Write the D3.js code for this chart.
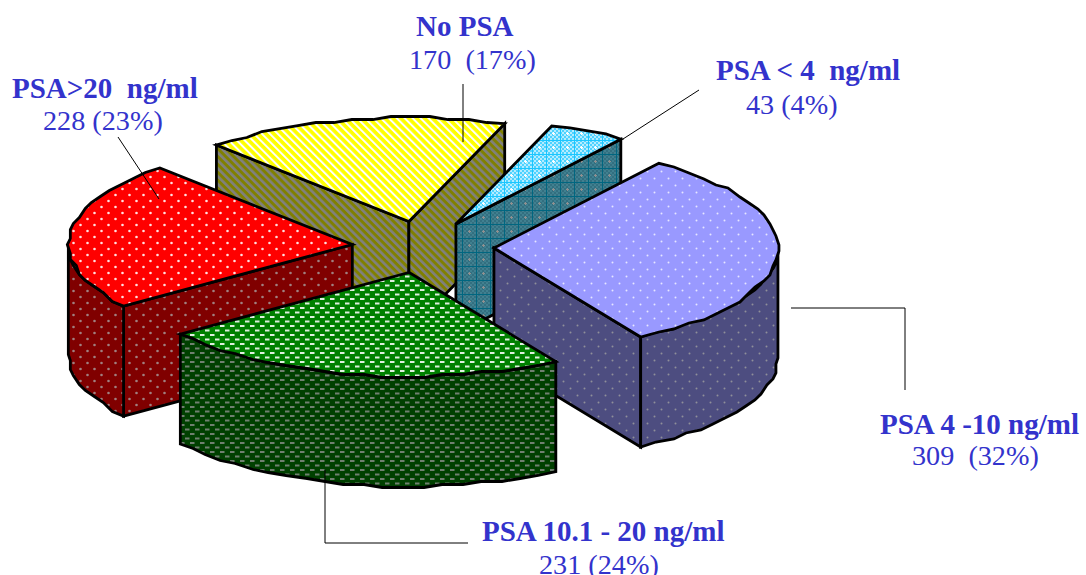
<!DOCTYPE html>
<html>
<head>
<meta charset="utf-8">
<script src="https://cdn.jsdelivr.net/npm/d3@7"></script>
<style>
  html, body { margin: 0; padding: 0; background: #fff; overflow: hidden; }
  text { font-family: "Liberation Serif", serif; fill: #3333cc; white-space: pre; }
  .head { font-weight: bold; font-size: 29px; }
  .sub { font-size: 28.2px; }
</style>
</head>
<body>
<script>
// slices run clockwise from the upper edge of the PSA 4-10 slice
var categories = ["PSA 4 -10 ng/ml", "PSA 10.1 - 20 ng/ml", "PSA>20  ng/ml", "No PSA", "PSA < 4  ng/ml"];
var counts = [309, 231, 228, 170, 43];
var subLabels = ["309  (32%)", "231 (24%)", "228 (23%)", "170  (17%)", "43 (4%)"];

var topPatterns = ["blueTop", "greenTop", "redTop", "yellowTop", "cyanTop"];
var sidePatterns = ["blueSide", "greenSide", "redSide", "yellowSide", "cyanSide"];

// the order the slices get painted in, back to front (index into the arrays above)
var paintOrder = [3, 4, 0, 2, 1];

// label start x, baselines
var headX = [880, 482, 12, 416, 716];
var headY = [434, 541, 98, 36, 80];
var subX = [912, 539, 43, 409, 746];
var subY = [465, 574, 130, 69, 114];
var leaders = [
    [[791, 308], [905, 308], [905, 390]],
    [[325, 470], [325, 543], [468, 543]],
    [[118, 137], [159, 199]],
    [[463, 84], [463, 142]],
    [[623, 139], [699, 90]]
];

var width = 1086, height = 575;
var depth = 110, explode = 0.25, startDeg = 35.5;

var svg = d3.select("body").append("svg")
    .attr("width", width)
    .attr("height", height);

// the pie lies flat, so the unit circle maps onto an ellipse
var scaleX = d3.scaleLinear().domain([-1, 1]).range([139, 707]);
var scaleY = d3.scaleLinear().domain([-1, 1]).range([143, 351]);

var pie = d3.pie()
    .sort(null)
    .startAngle(startDeg * Math.PI / 180)
    .endAngle((startDeg + 360) * Math.PI / 180);
var slices = pie(counts);

// ---- fill patterns ----
var defs = svg.append("defs");

function makePattern(id, w, h, base, transform) {
    var p = defs.append("pattern")
        .attr("id", id)
        .attr("patternUnits", "userSpaceOnUse")
        .attr("width", w)
        .attr("height", h);
    if (transform) p.attr("patternTransform", transform);
    p.append("rect").attr("width", w).attr("height", h).attr("fill", base);
    return p;
}

function dots(p, w, h, r, colour) {
    [[w / 4, h / 4], [w * 3 / 4, h * 3 / 4]].forEach(function(c) {
        p.append("circle").attr("cx", c[0]).attr("cy", c[1]).attr("r", r).attr("fill", colour);
    });
}

function dashes(p, colour) {
    [[0, 1], [5, 5.5]].forEach(function(c) {
        p.append("rect").attr("x", c[0]).attr("y", c[1]).attr("width", 4.5).attr("height", 2).attr("fill", colour);
    });
}

dots(makePattern("blueTop", 14, 14, "#9999ff"), 14, 14, 1, "#e6e6ff");
dots(makePattern("blueSide", 14, 14, "#4d4d80"), 14, 14, 1, "#8f8f99");
dots(makePattern("redTop", 14, 12, "#ff0000"), 14, 12, 1.3, "#ffe0e0");
dots(makePattern("redSide", 14, 12, "#800000"), 14, 12, 1.3, "#a08080");
dashes(makePattern("greenTop", 10, 9, "#008000"), "#e0f0e0");
dashes(makePattern("greenSide", 10, 9, "#004000"), "#708070");

var yt = makePattern("yellowTop", 5.6, 5.6, "#ffff00", "rotate(-45)");
yt.append("rect").attr("width", 2).attr("height", 5.6).attr("fill", "#ffffff");
var ys = makePattern("yellowSide", 5.6, 5.6, "#808000", "rotate(-45)");
ys.append("rect").attr("width", 2.6).attr("height", 5.6).attr("fill", "#808080");

function cyanPattern(id, a, b, line, plus) {
    var p = makePattern(id, 14, 14, a);
    d3.range(0, 14, 2).forEach(function(x) {
        d3.range(0, 14, 2).forEach(function(y) {
            if ((x + y) % 4 == 0) p.append("rect").attr("x", x).attr("y", y).attr("width", 2).attr("height", 2).attr("fill", b);
        });
    });
    p.append("rect").attr("x", 0).attr("width", 1).attr("height", 14).attr("fill", line);
    p.append("rect").attr("y", 0).attr("width", 14).attr("height", 1).attr("fill", line);
    p.append("rect").attr("x", 6).attr("y", 7).attr("width", 3).attr("height", 1).attr("fill", plus);
    p.append("rect").attr("x", 7).attr("y", 6).attr("width", 1).attr("height", 3).attr("fill", plus);
}
cyanPattern("cyanTop", "#4dd2ff", "#b3ecff", "#1ac6ff", "#ffffff");
cyanPattern("cyanSide", "#336f80", "#408090", "#006680", "#909090");

// ---- geometry helpers ----
function offsetOf(d) {
    var mid = (d.startAngle + d.endAngle) / 2;
    return [explode * Math.sin(mid), -explode * Math.cos(mid)];
}

function project(d, angle, radius) {
    var off = offsetOf(d);
    return [
        scaleX(off[0] + radius * Math.sin(angle)),
        scaleY(off[1] - radius * Math.cos(angle))
    ];
}

// rim is a coarse polyline snapped to a grid, the original has the same stepped look
function rimPoints(d, a0, a1) {
    var n = Math.max(2, Math.round((a1 - a0) / (4 * Math.PI / 180)));
    var ox = project(d, a0, 0)[0], oy = project(d, a0, 0)[1];
    return d3.range(n + 1).map(function(i) {
        var p = project(d, a0 + (a1 - a0) * i / n, 1);
        if (i == 0 || i == n) return p;
        return [ox + Math.round((p[0] - ox) / 3) * 3, oy + Math.round((p[1] - oy) / 3) * 3];
    });
}

function down(points) {
    return points.map(function(p) { return [p[0], p[1] + depth]; });
}

var line = d3.line();
function closed(points) { return line(points) + "Z"; }

// ---- slices ----
var sliceG = svg.selectAll(".slice")
    .data(paintOrder.map(function(i) { return { d: slices[i], i: i }; }))
    .enter().append("g")
    .attr("class", "slice")
    .attr("stroke", "#000")
    .attr("stroke-width", 2.8)
    .attr("stroke-linejoin", "miter");

sliceG.each(function(s) {
    var g = d3.select(this), d = s.d;
    var apex = project(d, d.startAngle, 0);
    var side = "url(#" + sidePatterns[s.i] + ")";
    var rim = rimPoints(d, d.startAngle, d.endAngle);

    // radial walls, only those turned towards the viewer
    var walls = [];
    if (Math.sin(d.startAngle) < 0) walls.push(d.startAngle);
    if (Math.sin(d.endAngle) > 0) walls.push(d.endAngle);
    walls.forEach(function(a) {
        var edge = [apex, project(d, a, 1)];
        g.append("path")
            .attr("fill", side)
            .attr("d", closed(edge.concat(down(edge).reverse())));
    });

    // outer wall, only the part of the rim that faces the viewer
    var a0 = Math.max(d.startAngle, Math.PI / 2), a1 = Math.min(d.endAngle, 3 * Math.PI / 2);
    if (a1 > a0) {
        var front = rimPoints(d, a0, a1);
        g.append("path")
            .attr("fill", side)
            .attr("d", closed(front.concat(down(front).reverse())));
    }

    g.append("path")
        .attr("fill", "url(#" + topPatterns[s.i] + ")")
        .attr("d", closed([apex].concat(rim)));
});

// ---- leader lines and labels ----
svg.selectAll(".leader")
    .data(leaders)
    .enter().append("path")
    .attr("class", "leader")
    .attr("fill", "none")
    .attr("stroke", "#000")
    .attr("stroke-width", 1)
    .attr("d", line);

svg.selectAll(".head")
    .data(categories)
    .enter().append("text")
    .attr("class", "head")
    .attr("x", function(d, i) { return headX[i]; })
    .attr("y", function(d, i) { return headY[i]; })
    .text(function(d) { return d; });

svg.selectAll(".sub")
    .data(subLabels)
    .enter().append("text")
    .attr("class", "sub")
    .attr("x", function(d, i) { return subX[i]; })
    .attr("y", function(d, i) { return subY[i]; })
    .text(function(d) { return d; });
</script>
</body>
</html>
